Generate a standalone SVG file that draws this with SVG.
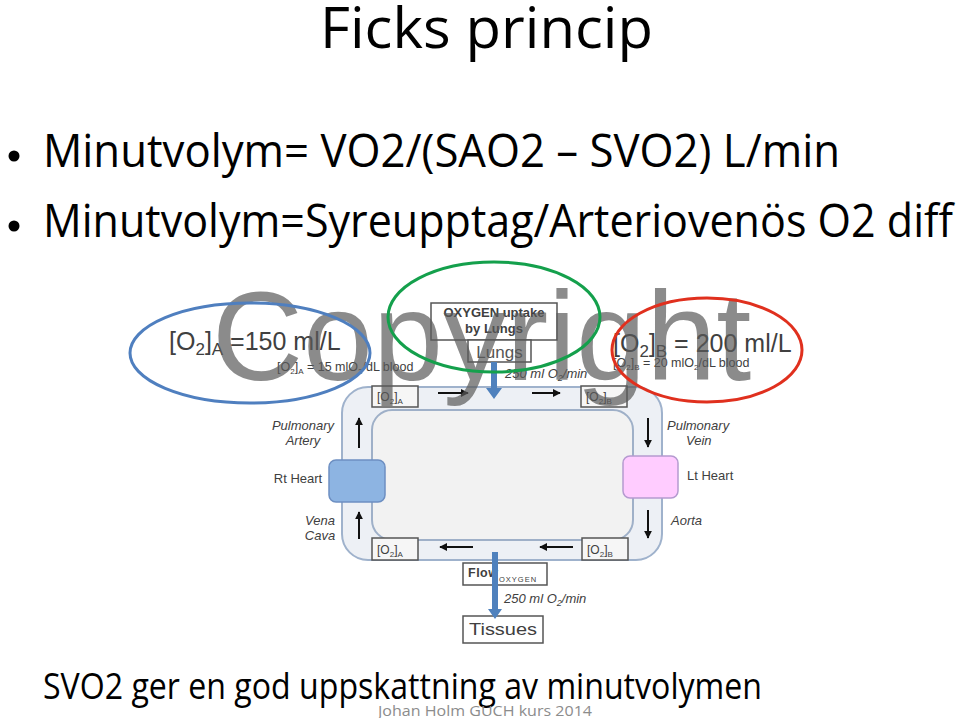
<svg xmlns="http://www.w3.org/2000/svg" width="960" height="718" viewBox="0 0 960 718">
<defs>
<style>
.slide{font-family:"Open Sans","Liberation Sans",sans-serif;fill:#000}
.dg{font-family:"Liberation Sans",Arial,sans-serif;fill:#404040}
.it{font-style:italic;font-size:13px}
.box{fill:#fff;stroke:#555;stroke-width:1.5}
.obox{fill:#f6f6f6;stroke:#555;stroke-width:1.5}
.conn{stroke:#111;stroke-width:2;fill:none;marker-end:url(#ah)}
.blue{fill:#4f81bd}
</style>
<marker id="ah" viewBox="0 0 10 10" refX="9" refY="5" markerWidth="4" markerHeight="4" orient="auto" markerUnits="strokeWidth">
<path d="M0,0 L10,5 L0,10 z" fill="#111"/>
</marker>
</defs>
<rect width="960" height="718" fill="#fff"/>

<g id="slide-text">
<text class="slide" x="320" y="48" font-size="56" textLength="333" lengthAdjust="spacingAndGlyphs">Ficks princip</text>
<circle cx="14" cy="156" r="5.5" fill="#000"/>
<text class="slide" x="43" y="167" font-size="45" textLength="797" lengthAdjust="spacingAndGlyphs">Minutvolym= VO2/(SAO2 – SVO2) L/min</text>
<circle cx="14" cy="226" r="5.5" fill="#000"/>
<text class="slide" x="43" y="237" font-size="45" textLength="910" lengthAdjust="spacingAndGlyphs">Minutvolym=Syreupptag/Arteriovenös O2 diff</text>
<text class="slide" x="43" y="699" font-size="36" textLength="719" lengthAdjust="spacingAndGlyphs">SVO2 ger en god uppskattning av minutvolymen</text>
<text class="slide" x="378" y="716" font-size="15" style="fill:#8c8c8c" textLength="214" lengthAdjust="spacingAndGlyphs">Johan Holm GUCH kurs 2014</text>
</g>

<g id="loop">
<rect x="342" y="387" width="320" height="173" rx="26" fill="#edf0f5" stroke="#9fb2cc" stroke-width="2"/>
<rect x="372" y="410" width="261" height="130" rx="20" fill="#f2f2f2" stroke="#9fb0c8" stroke-width="2"/>
</g>

<g id="connectors">
<path class="conn" d="M438,393 H468"/>
<path class="conn" d="M532,393 H560"/>
<path class="conn" d="M473,547 H440"/>
<path class="conn" d="M573,547 H540"/>
<path class="conn" d="M359,448 V418"/>
<path class="conn" d="M359,539 V512"/>
<path class="conn" d="M648,418 V447"/>
<path class="conn" d="M648,510 V538"/>
</g>

<g id="o2a-top">
<rect class="obox" x="372" y="386" width="46" height="21"/>
<text class="dg" x="377" y="401" font-size="12">[O<tspan font-size="8" dy="3">2</tspan><tspan dy="-3">]</tspan><tspan font-size="8" dy="3">A</tspan></text>
</g>
<g id="o2b-top">
<rect class="obox" x="581" y="386" width="46" height="21"/>
<text class="dg" x="586" y="401" font-size="12">[O<tspan font-size="8" dy="3">2</tspan><tspan dy="-3">]</tspan><tspan font-size="8" dy="3">B</tspan></text>
</g>
<g id="o2a-bottom">
<rect class="obox" x="372" y="538" width="46" height="22"/>
<text class="dg" x="377" y="554" font-size="12">[O<tspan font-size="8" dy="3">2</tspan><tspan dy="-3">]</tspan><tspan font-size="8" dy="3">A</tspan></text>
</g>
<g id="o2b-bottom">
<rect class="obox" x="582" y="538" width="46" height="22"/>
<text class="dg" x="587" y="554" font-size="12">[O<tspan font-size="8" dy="3">2</tspan><tspan dy="-3">]</tspan><tspan font-size="8" dy="3">B</tspan></text>
</g>

<g id="rt-heart">
<rect x="329" y="460" width="56" height="42" rx="7" fill="#8db4e2" stroke="#6d8fc2" stroke-width="1.5"/>
<text class="dg" x="298" y="483" font-size="13" text-anchor="middle">Rt Heart</text>
</g>
<g id="lt-heart">
<rect x="623" y="456" width="55" height="42" rx="7" fill="#ffccff" stroke="#b59ad0" stroke-width="1.5"/>
<text class="dg" x="687" y="480" font-size="13">Lt Heart</text>
</g>

<g id="vessel-labels">
<text class="dg it" x="303" y="430" text-anchor="middle">Pulmonary</text>
<text class="dg it" x="303" y="445" text-anchor="middle">Artery</text>
<text class="dg it" x="320" y="525" text-anchor="middle">Vena</text>
<text class="dg it" x="320" y="540" text-anchor="middle">Cava</text>
<text class="dg it" x="667" y="430">Pulmonary</text>
<text class="dg it" x="686" y="445">Vein</text>
<text class="dg it" x="671" y="525">Aorta</text>
</g>

<g id="oxygen-uptake">
<rect class="box" x="431" y="303" width="126" height="37"/>
<text class="dg" x="494" y="317" font-size="13" font-weight="bold" text-anchor="middle" fill="#333">OXYGEN uptake</text>
<text class="dg" x="494" y="333" font-size="13" font-weight="bold" text-anchor="middle" fill="#333">by Lungs</text>
</g>
<g id="lungs">
<rect class="box" x="468" y="340" width="63" height="22"/>
<text class="dg" x="499.5" y="358" font-size="17" text-anchor="middle" style="fill:#555">Lungs</text>
</g>
<g id="uptake-arrow">
<path class="blue" d="M491,362 H497 V388 H502 L494,399 L486,388 H491 Z"/>
<text class="dg it" x="505" y="378">250 ml O<tspan font-size="9" dy="3">2</tspan><tspan dy="-3">/min</tspan></text>
</g>

<g id="flow">
<rect class="box" x="463" y="563" width="84" height="22"/>
<text class="dg" x="468" y="577" font-size="12.5" font-weight="bold" letter-spacing="0.5" fill="#222">Flow</text>
<text class="dg" x="499" y="582" font-size="7.5" letter-spacing="1" fill="#333">OXYGEN</text>
</g>
<g id="tissues">
<rect class="box" x="463" y="616" width="80" height="27"/>
<text class="dg" x="469" y="635" font-size="17" textLength="68" lengthAdjust="spacingAndGlyphs">Tissues</text>
</g>
<g id="flow-arrow">
<path class="blue" d="M492,552 H498 V609 H502 L495,619 L488,609 H492 Z"/>
<text class="dg it" x="504" y="603">250 ml O<tspan font-size="9" dy="3">2</tspan><tspan dy="-3">/min</tspan></text>
</g>

<g id="concentration-a">
<text class="dg" x="169" y="350" font-size="25" fill="#333">[O<tspan font-size="17" dy="5">2</tspan><tspan dy="-5">]</tspan><tspan font-size="17" dy="5">A</tspan><tspan dy="-5"> =150 ml/L</tspan></text>
<text class="dg" x="277" y="371" font-size="12.5">[O<tspan font-size="8" dy="3">2</tspan><tspan dy="-3">]</tspan><tspan font-size="8" dy="3">A</tspan><tspan dy="-3"> = 15 mlO</tspan><tspan font-size="8" dy="3">2</tspan><tspan dy="-3">/dL blood</tspan></text>
</g>
<g id="concentration-b">
<text class="dg" x="613" y="352" font-size="25" fill="#333">[O<tspan font-size="17" dy="5">2</tspan><tspan dy="-5">]</tspan><tspan font-size="17" dy="5">B</tspan><tspan dy="-5"> = 200 ml/L</tspan></text>
<text class="dg" x="613" y="367" font-size="12.5">[O<tspan font-size="8" dy="3">2</tspan><tspan dy="-3">]</tspan><tspan font-size="8" dy="3">B</tspan><tspan dy="-3"> = 20 mlO</tspan><tspan font-size="8" dy="3">2</tspan><tspan dy="-3">/dL blood</tspan></text>
</g>

<text id="watermark" x="212" y="380" font-family="'Liberation Sans',Arial,sans-serif" font-size="126" fill="#5a5a5a" fill-opacity="0.7">Copyright</text>

<g id="highlights" fill="none" stroke-width="3">
<ellipse cx="250" cy="353" rx="120" ry="50" stroke="#4f7fbf"/>
<ellipse cx="494" cy="317" rx="106" ry="55" stroke="#14a04c"/>
<ellipse cx="707" cy="350" rx="95" ry="52" stroke="#e0301e"/>
</g>
</svg>
